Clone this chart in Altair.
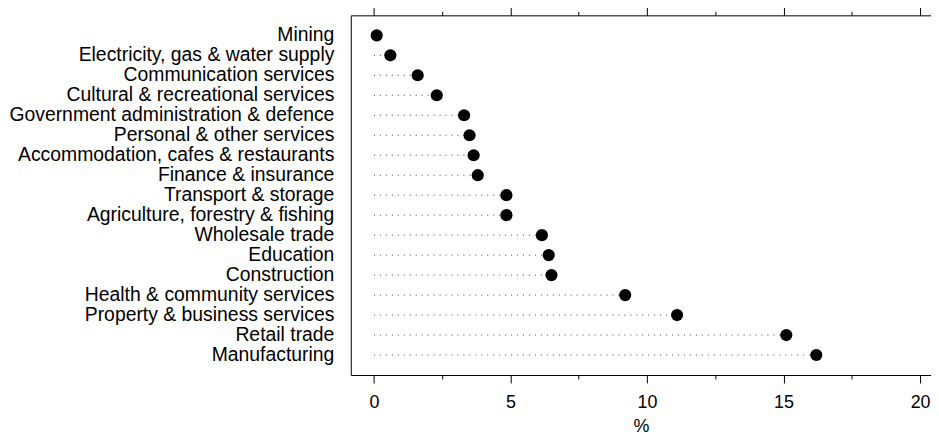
import altair as alt
import pandas as pd

industries = [
    "Mining", "Electricity, gas & water supply", "Communication services",
    "Cultural & recreational services", "Government administration & defence",
    "Personal & other services", "Accommodation, cafes & restaurants",
    "Finance & insurance", "Transport & storage", "Agriculture, forestry & fishing",
    "Wholesale trade", "Education", "Construction", "Health & community services",
    "Property & business services", "Retail trade", "Manufacturing",
]
percent = [0.1, 0.6, 1.6, 2.3, 3.3, 3.5, 3.65, 3.8, 4.85, 4.85,
           6.15, 6.4, 6.5, 9.2, 11.1, 15.1, 16.2]
tick_values = [0, 2.5, 5, 7.5, 10, 12.5, 15, 17.5, 20]

df = pd.DataFrame({"industry": industries, "pct": percent, "zero": [0] * len(industries)})

FONT = "Liberation Sans"
xscale = alt.Scale(domain=[-0.85, 20.4], nice=False, zero=False)
yscale = alt.Scale(domain=industries, padding=1.22)
major_test = "datum.value % 5 === 0"

yenc = alt.Y("industry:N", sort=industries, scale=yscale,
             axis=alt.Axis(title=None, ticks=False, domain=True, domainColor="black",
                           labelPadding=17, labelFontSize=19.5, labelFont=FONT,
                           labelColor="black", labelLimit=0))

rules = alt.Chart(df).mark_rule(strokeDash=[1, 5], color="#444", strokeWidth=1).encode(
    x=alt.X("zero:Q", scale=xscale,
            axis=alt.Axis(title="%", values=tick_values, grid=False,
                          labelExpr="datum.value % 5 === 0 ? datum.label : ''",
                          tickSize={"condition": {"test": major_test, "value": 8}, "value": 4},
                          tickColor="black", domainColor="black",
                          labelFontSize=18, labelFont=FONT, labelColor="black",
                          labelPadding=11, titleFontSize=18, titleFont=FONT,
                          titleFontWeight="normal", titleColor="black", titlePadding=6)),
    x2="pct:Q",
    y=yenc,
)

points = alt.Chart(df).mark_circle(size=150, color="black", opacity=1).encode(
    x=alt.X("pct:Q", scale=xscale,
            axis=alt.Axis(orient="top", title=None, values=tick_values, grid=False,
                          labels=False,
                          tickSize={"condition": {"test": major_test, "value": 9}, "value": 4},
                          tickColor="black", domainColor="black")),
    y=yenc,
)

chart = alt.layer(rules, points).resolve_axis(x="independent").properties(
    width=584, height=362,
    autosize=alt.AutoSizeParams(type="none"),
    padding={"left": 345, "top": 6, "right": 0, "bottom": 60},
).configure_view(stroke=None)

chart.save("out.html", embed_options={"renderer": "svg", "actions": False})
